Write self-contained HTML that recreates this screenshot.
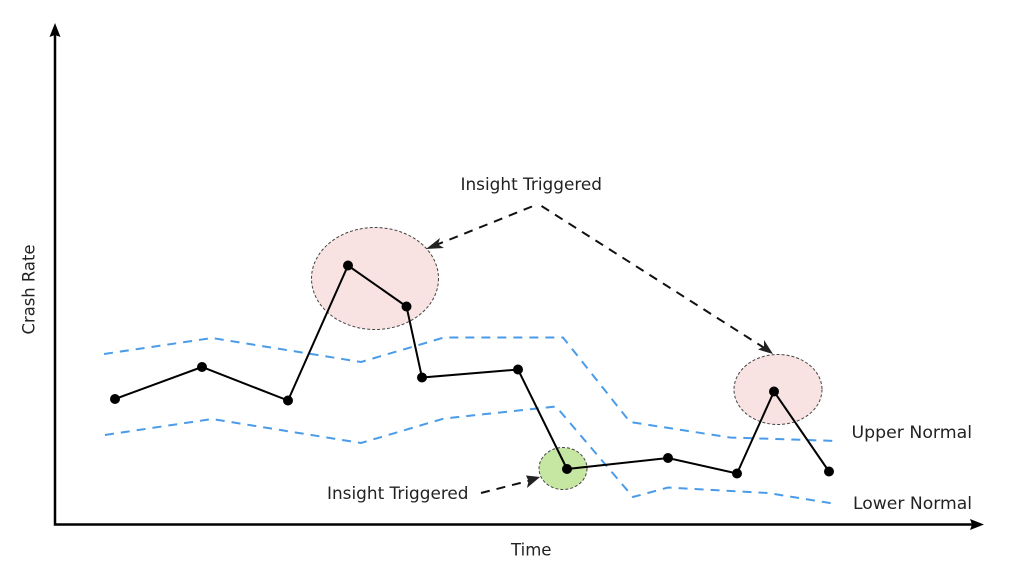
<!DOCTYPE html>
<html>
<head>
<meta charset="utf-8">
<style>
html,body{margin:0;padding:0;background:#fff;width:1016px;height:570px;overflow:hidden}
svg{display:block}
text{font-family:"DejaVu Sans",sans-serif;font-size:16.500px;fill:#222}
</style>
</head>
<body>
<svg width="1016" height="570" viewBox="0 0 1016 570" xmlns="http://www.w3.org/2000/svg">
<!-- bubbles -->
<ellipse cx="375" cy="278.500" rx="63.500" ry="51" fill="#f8e2e2" stroke="#444" stroke-width="1" stroke-dasharray="3 2"/>
<ellipse cx="778" cy="389.500" rx="44" ry="35" fill="#f8e2e2" stroke="#444" stroke-width="1" stroke-dasharray="3 2"/>
<ellipse cx="563" cy="468.500" rx="24" ry="21" fill="#c5e7a1" stroke="#444" stroke-width="1" stroke-dasharray="3 2"/>
<!-- normal bands -->
<polyline points="104,354 212,338 361,362 444,337.500 563,337.500 630,422 730,437.500 837,441" fill="none" stroke="#4a9be8" stroke-width="2" stroke-dasharray="9 7"/>
<polyline points="105,435 212,419 361,443 444,418.500 556,406.500 633,497 668,487.500 768,493 836,504" fill="none" stroke="#4a9be8" stroke-width="2" stroke-dasharray="9 7"/>
<!-- axes -->
<polyline points="55,32 55,524.500 974,524.500" fill="none" stroke="#000" stroke-width="2.500"/>
<polygon points="55,23 60.500,37 55,35 49.500,37" fill="#000"/>
<polygon points="984,524.500 970,530 972,524.500 970,519" fill="#000"/>
<!-- data line -->
<polyline points="115,399 202,367 288,400.500 348,265.500 406.500,306.500 422,377.500 518,369.500 567,469 668,458 737,473.500 774,391.500 829,471.500" fill="none" stroke="#000" stroke-width="2"/>
<g fill="#000">
<circle cx="115" cy="399" r="5"/>
<circle cx="202" cy="367" r="5"/>
<circle cx="288" cy="400.500" r="5"/>
<circle cx="348" cy="265.500" r="5"/>
<circle cx="406.500" cy="306.500" r="5"/>
<circle cx="422" cy="377.500" r="5"/>
<circle cx="518" cy="369.500" r="5"/>
<circle cx="567" cy="469" r="5"/>
<circle cx="668" cy="458" r="5"/>
<circle cx="737" cy="473.500" r="5"/>
<circle cx="774" cy="391.500" r="5"/>
<circle cx="829" cy="471.500" r="5"/>
</g>
<!-- annotation arrows -->
<line x1="541.500" y1="206" x2="766" y2="349" stroke="#111" stroke-width="2" stroke-dasharray="9 7"/>
<line x1="532" y1="206.500" x2="436" y2="245" stroke="#111" stroke-width="2" stroke-dasharray="9 7"/>
<polygon points="426,249 440,238 438,244.500 444,248" fill="#222"/>
<polygon points="773,354 758,349.500 764,346.500 764,340" fill="#222"/>
<line x1="481" y1="493" x2="530" y2="480.500" stroke="#111" stroke-width="2" stroke-dasharray="9 7"/>
<polygon points="540,477 527,488 528.500,481 526,475.500" fill="#222"/>
<!-- labels -->
<text x="460.500" y="190" textLength="141.500" lengthAdjust="spacingAndGlyphs">Insight Triggered</text>
<text x="327" y="499" textLength="141.500" lengthAdjust="spacingAndGlyphs">Insight Triggered</text>
<text x="851.500" y="438" textLength="120.500" lengthAdjust="spacingAndGlyphs">Upper Normal</text>
<text x="853" y="509" textLength="119" lengthAdjust="spacingAndGlyphs">Lower Normal</text>
<text x="511" y="555.500" textLength="40.500" lengthAdjust="spacingAndGlyphs">Time</text>
<text transform="translate(34.500,334.500) rotate(-90)" textLength="90" lengthAdjust="spacingAndGlyphs">Crash Rate</text>
</svg>
</body>
</html>
